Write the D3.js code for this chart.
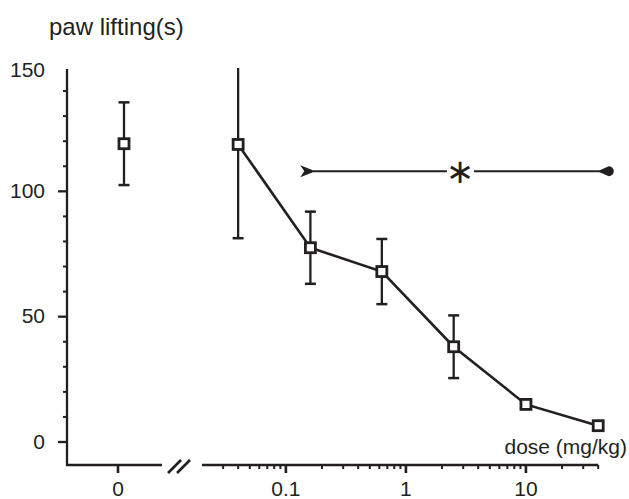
<!DOCTYPE html>
<html>
<head>
<meta charset="utf-8">
<script src="https://cdn.jsdelivr.net/npm/d3@7/dist/d3.min.js"></script>
<style>
  html, body { margin: 0; padding: 0; background: #fff; }
  svg text { font-family: "Liberation Sans", Arial, sans-serif; fill: #231f20; }
</style>
</head>
<body>
<svg id="chart" width="629" height="499"></svg>
<script>
// ---- data ----
const doses = [0.04, 0.16, 0.63, 2.5, 10, 40];
const means = [118.7, 77.5, 68, 38, 15, 6.5];
const errs  = [37.4, 14.4, 13, 12.5, 0, 0];
const controlDose = ["0"];
const controlMean = [119];
const controlErr  = [16.5];
const yMajorTicks = [0, 50, 100, 150];
const yMinorTicks = [10, 20, 30, 40, 60, 70, 80, 90, 110, 120, 130, 140];
const xMajorTicks = [0.1, 1, 10];
const xMajorLabels = ["0.1", "1", "10"];
const xMinorTicks = [0.03,0.04,0.05,0.06,0.07,0.08,0.09,0.2,0.3,0.4,0.5,0.6,0.7,0.8,0.9,2,3,4,5,6,7,8,9,20,30,40];
const sigRange = [0.145, 49];
const sigLevel = [108];
const yLabel = "paw lifting(s)";
const xLabel = "dose (mg/kg)";

// ---- scales ----
const ink = "#231f20";
const svg = d3.select("#chart");
const y = d3.scaleLinear().domain([0, 150]).range([442, 66]);
const x = d3.scaleLog().domain([0.02, 40]).range([202, 598.2]);
const x0 = d3.scalePoint().domain(controlDose).range([78, 162]).padding(0.5);
const axisY = 465, axisX = 67;

// ---- y axis ----
svg.append("line").attr("x1", axisX).attr("x2", axisX).attr("y1", axisY + 1).attr("y2", y(150) + 3)
  .attr("stroke", ink).attr("stroke-width", 2.3);
svg.selectAll(".ymin").data(yMinorTicks).join("line")
  .attr("x1", axisX - 4).attr("x2", axisX).attr("y1", d => y(d)).attr("y2", d => y(d))
  .attr("stroke", ink).attr("stroke-width", 2);
svg.selectAll(".ymaj").data(yMajorTicks.filter(d => d < 150)).join("line")
  .attr("x1", axisX - 9).attr("x2", axisX).attr("y1", d => y(d)).attr("y2", d => y(d))
  .attr("stroke", ink).attr("stroke-width", 2.3);
svg.selectAll(".ylab").data(yMajorTicks).join("text")
  .attr("x", 45).attr("y", d => y(d) + (d === 150 ? 3 : -1)).attr("dy", "0.36em")
  .attr("text-anchor", "end").attr("font-size", 21).text(d => d);

// ---- x axis: left segment (control) ----
svg.append("line").attr("x1", axisX - 1).attr("x2", 162).attr("y1", axisY).attr("y2", axisY)
  .attr("stroke", ink).attr("stroke-width", 2.3);
svg.append("line").attr("x1", x0("0") - 2).attr("x2", x0("0") - 2).attr("y1", axisY).attr("y2", axisY + 8)
  .attr("stroke", ink).attr("stroke-width", 2.6);
svg.append("text").attr("x", x0("0") - 2).attr("y", 488).attr("dy", "0.36em")
  .attr("text-anchor", "middle").attr("font-size", 21).text(controlDose[0]);

// break marks
[[168, 181], [177, 190]].forEach(([a, b]) => {
  svg.append("line").attr("x1", a).attr("y1", 473).attr("x2", b).attr("y2", 460)
    .attr("stroke", ink).attr("stroke-width", 2.6);
});

// ---- x axis: right segment (log) ----
svg.append("line").attr("x1", x.range()[0]).attr("x2", x.range()[1]).attr("y1", axisY).attr("y2", axisY)
  .attr("stroke", ink).attr("stroke-width", 2.3);
svg.selectAll(".xmin").data(xMinorTicks).join("line")
  .attr("x1", d => x(d)).attr("x2", d => x(d)).attr("y1", axisY).attr("y2", axisY + 4)
  .attr("stroke", ink).attr("stroke-width", 2);
svg.selectAll(".xmaj").data(xMajorTicks).join("line")
  .attr("x1", d => x(d)).attr("x2", d => x(d)).attr("y1", axisY).attr("y2", axisY + 8)
  .attr("stroke", ink).attr("stroke-width", 2.6);
svg.selectAll(".xlab").data(xMajorTicks).join("text")
  .attr("x", d => x(d)).attr("y", 488).attr("dy", "0.36em")
  .attr("text-anchor", "middle").attr("font-size", 21).text((d, i) => xMajorLabels[i]);

// ---- labels ----
svg.append("text").attr("x", 49).attr("y", 35).attr("font-size", 24).text(yLabel);
svg.append("text").attr("x", 627).attr("y", 454).attr("text-anchor", "end").attr("font-size", 21).text(xLabel);

// ---- error bars ----
function errBar(cx, m, e) {
  if (e <= 0) return;
  const top = m + e, bot = m - e;
  const yTop = top > 150 ? y(150) + 2 : y(top);
  svg.append("line").attr("x1", cx).attr("x2", cx).attr("y1", yTop).attr("y2", y(bot))
    .attr("stroke", ink).attr("stroke-width", 2.3);
  if (top <= 150) svg.append("line").attr("x1", cx - 5.5).attr("x2", cx + 5.5).attr("y1", y(top)).attr("y2", y(top))
    .attr("stroke", ink).attr("stroke-width", 2.5);
  svg.append("line").attr("x1", cx - 5.5).attr("x2", cx + 5.5).attr("y1", y(bot)).attr("y2", y(bot))
    .attr("stroke", ink).attr("stroke-width", 2.5);
}
errBar(x0("0") + 4, controlMean[0], controlErr[0]);
doses.forEach((d, i) => errBar(x(d), means[i], errs[i]));

// ---- significance bar ----
const sy = y(sigLevel[0]);
const sx1 = x(sigRange[0]), sx2 = x(sigRange[1]);
const starX = 460;
svg.append("line").attr("x1", sx1 + 6).attr("x2", starX - 13).attr("y1", sy).attr("y2", sy)
  .attr("stroke", ink).attr("stroke-width", 2);
svg.append("line").attr("x1", starX + 14).attr("x2", sx2 - 4).attr("y1", sy).attr("y2", sy)
  .attr("stroke", ink).attr("stroke-width", 2);
svg.append("path")
  .attr("d", `M${sx1 - 5},${sy - 6} L${sx1 + 7},${sy - 1.2} L${sx1 + 7},${sy + 1.2} L${sx1 - 5},${sy + 6} L${sx1 - 1},${sy} Z`)
  .attr("fill", ink);
svg.append("path")
  .attr("d", `M${sx2 - 9},${sy - 1} L${sx2},${sy - 5} A5,5 0 0 1 ${sx2},${sy + 5} L${sx2 - 9},${sy + 1} Z`)
  .attr("fill", ink);
svg.append("text").attr("x", starX).attr("y", sy).attr("dy", "0.35em")
  .attr("text-anchor", "middle").attr("font-size", 34)
  .style("font-family", "DejaVu Sans").style("fill", ink).text("\u2217");

// ---- line + markers ----
const line = d3.line().x((d, i) => x(doses[i])).y(d => y(d));
svg.append("path").datum(means).attr("d", line).attr("fill", "none")
  .attr("stroke", ink).attr("stroke-width", 2.6);

const sq = 10;
svg.append("rect").attr("x", x0("0") + 4 - sq / 2).attr("y", y(controlMean[0]) - sq / 2)
  .attr("width", sq).attr("height", sq).attr("fill", "#fff").attr("stroke", ink).attr("stroke-width", 2.8);
svg.selectAll(".pt").data(means).join("rect")
  .attr("x", (d, i) => x(doses[i]) - sq / 2).attr("y", d => y(d) - sq / 2)
  .attr("width", sq).attr("height", sq).attr("fill", "#fff").attr("stroke", ink).attr("stroke-width", 2.8);
</script>
</body>
</html>
